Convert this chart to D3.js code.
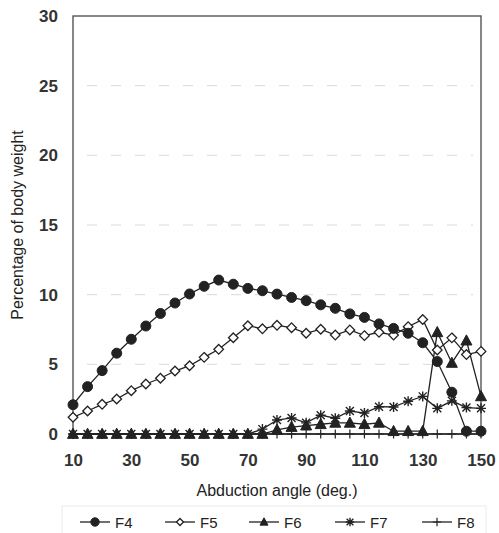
<!DOCTYPE html>
<html>
<head>
<meta charset="utf-8">
<script src="https://cdn.jsdelivr.net/npm/d3@7"></script>
<style>
  html, body { margin: 0; padding: 0; background: #fff; }
  svg { display: block; font-family: "Liberation Sans", Arial, sans-serif; }
</style>
</head>
<body>
<div id="chart"></div>
<script>
// Abduction angles (deg.)
const angles = [10, 15, 20, 25, 30, 35, 40, 45, 50, 55, 60, 65, 70, 75, 80,
                85, 90, 95, 100, 105, 110, 115, 120, 125, 130, 135, 140, 145, 150];

// Percentage of body weight
const f4 = [2.1, 3.4, 4.55, 5.8, 6.8, 7.75, 8.65, 9.4, 10.05, 10.6, 11.05, 10.75, 10.45, 10.28, 10.04,
            9.8, 9.57, 9.27, 9.02, 8.62, 8.37, 7.9, 7.58, 7.23, 6.55, 5.2, 3.0, 0.2, 0.2];
const f5 = [1.2, 1.65, 2.13, 2.51, 3.11, 3.59, 4.0, 4.52, 4.9, 5.5, 6.08, 6.91, 7.77, 7.55, 7.8,
            7.63, 7.23, 7.52, 7.1, 7.47, 7.06, 7.3, 7.1, 7.7, 8.22, 6.03, 6.9, 5.7, 5.93];
const f6 = [0, 0, 0, 0, 0, 0, 0, 0, 0, 0, 0, 0, 0, 0, 0.3,
            0.5, 0.6, 0.7, 0.8, 0.8, 0.7, 0.8, 0.2, 0.2, 0.2, 7.3, 5.1, 6.7, 2.7];
const f7 = [0, 0, 0, 0, 0, 0, 0, 0, 0, 0, 0, 0, 0, 0.35, 1.0,
            1.15, 0.8, 1.35, 1.13, 1.65, 1.5, 1.96, 1.94, 2.35, 2.7, 1.84, 2.38, 1.9, 1.84];
const f8 = [0, 0, 0, 0, 0, 0, 0, 0, 0, 0, 0, 0, 0, 0, 0,
            0, 0, 0, 0, 0, 0, 0, 0, 0, 0, 0, 0, 0, 0];

const xTicks = [10, 30, 50, 70, 90, 110, 130, 150];
const yTicks = [0, 5, 10, 15, 20, 25, 30];
const gridValues = [5, 10, 15, 20, 25];

const series = [
    { name: 'F8', values: f8, marker: 'plus' },
    { name: 'F7', values: f7, marker: 'star' },
    { name: 'F6', values: f6, marker: 'triangle' },
    { name: 'F5', values: f5, marker: 'diamond' },
    { name: 'F4', values: f4, marker: 'circle' }
];
const legendOrder = ['F4', 'F5', 'F6', 'F7', 'F8'];

const W = 499, H = 533;
const ink = '#222';

const svg = d3.select('#chart').append('svg')
    .attr('width', W)
    .attr('height', H);

const x = d3.scaleLinear().domain([10, 150]).range([73, 481]);
const y = d3.scaleLinear().domain([0, 30]).range([434, 16]);

// light dashed gridlines
svg.append('g')
    .selectAll('line')
    .data(gridValues)
    .join('line')
    .attr('x1', x(10) + 14)
    .attr('x2', x(150) - 8)
    .attr('y1', d => y(d))
    .attr('y2', d => y(d))
    .attr('stroke', '#dadada')
    .attr('stroke-width', 1)
    .attr('stroke-dasharray', '10 14');

// frame
svg.append('rect')
    .attr('x', x(10))
    .attr('y', y(30))
    .attr('width', x(150) - x(10))
    .attr('height', y(0) - y(30))
    .attr('fill', 'none')
    .attr('stroke', '#555')
    .attr('stroke-width', 1.4);

// y axis labels
const yAxis = d3.axisLeft(y).tickValues(yTicks).tickSize(0).tickPadding(15);
svg.append('g')
    .attr('transform', `translate(${x(10)},0)`)
    .call(yAxis)
    .call(g => g.select('.domain').remove())
    .call(g => g.selectAll('text')
        .attr('font-size', 17)
        .attr('font-weight', 'bold')
        .attr('fill', '#333')
        .attr('font-family', '"Liberation Sans", Arial, sans-serif'));

// x axis labels
const xAxis = d3.axisBottom(x).tickValues(xTicks).tickSize(0).tickPadding(20);
svg.append('g')
    .attr('transform', `translate(0,${y(0)})`)
    .call(xAxis)
    .call(g => g.select('.domain').remove())
    .call(g => g.selectAll('text')
        .attr('font-size', 17)
        .attr('font-weight', 'bold')
        .attr('fill', '#333')
        .attr('font-family', '"Liberation Sans", Arial, sans-serif'));

// axis titles
svg.append('text')
    .attr('x', (x(10) + x(150)) / 2)
    .attr('y', 496)
    .attr('text-anchor', 'middle')
    .attr('font-size', 16)
    .attr('fill', '#222')
    .text('Abduction angle (deg.)');

svg.append('text')
    .attr('transform', `translate(23,${(y(0) + y(30)) / 2}) rotate(-90)`)
    .attr('text-anchor', 'middle')
    .attr('font-size', 16)
    .attr('fill', '#222')
    .text('Percentage of body weight');

// marker drawing
function drawMarker(sel, type, s) {
    if (type === 'circle') {
        sel.append('circle').attr('r', s).attr('fill', ink).attr('stroke', ink);
    } else if (type === 'diamond') {
        sel.append('path')
            .attr('d', `M0,${-s}L${s},0L0,${s}L${-s},0Z`)
            .attr('fill', '#fff').attr('stroke', ink).attr('stroke-width', 1.3);
    } else if (type === 'triangle') {
        sel.append('path')
            .attr('d', `M0,${-s}L${s * 0.95},${s * 0.75}L${-s * 0.95},${s * 0.75}Z`)
            .attr('fill', ink).attr('stroke', ink);
    } else if (type === 'star') {
        const a = s * 0.8;
        sel.append('path')
            .attr('d', `M${-a},${-a}L${a},${a}M${-a},${a}L${a},${-a}M0,${-s}L0,${s}M${-s},0L${s},0`)
            .attr('fill', 'none').attr('stroke', ink).attr('stroke-width', 1.4);
    } else if (type === 'plus') {
        sel.append('path')
            .attr('d', `M0,${-s}L0,${s}M${-s},0L${s},0`)
            .attr('fill', 'none').attr('stroke', ink).attr('stroke-width', 1.2);
    }
}

const markerSize = { circle: 5, diamond: 4.8, triangle: 5.8, star: 5, plus: 4.5 };

const line = d3.line()
    .x(d => x(d.a))
    .y(d => y(d.v));

series.forEach(s => {
    const pts = angles.map((a, i) => ({ a: a, v: s.values[i] }));
    const g = svg.append('g').attr('class', 'series-' + s.name);
    g.append('path')
        .datum(pts)
        .attr('d', line)
        .attr('fill', 'none')
        .attr('stroke', ink)
        .attr('stroke-width', 1.3);
    g.selectAll('g.pt')
        .data(pts)
        .join('g')
        .attr('class', 'pt')
        .attr('transform', d => `translate(${x(d.a)},${y(d.v)})`)
        .each(function() { drawMarker(d3.select(this), s.marker, markerSize[s.marker]); });
});

// legend
svg.append('rect')
    .attr('x', 62).attr('y', 506)
    .attr('width', 424).attr('height', 34)
    .attr('fill', 'none')
    .attr('stroke', '#ececec');

const legendX = [80, 165, 249, 335, 422];
legendOrder.forEach((name, i) => {
    const s = series.find(d => d.name === name);
    const g = svg.append('g').attr('transform', `translate(${legendX[i]},522)`);
    g.append('line')
        .attr('x1', 0).attr('x2', 30)
        .attr('stroke', ink).attr('stroke-width', 1.3);
    const m = g.append('g').attr('transform', 'translate(15,0)');
    drawMarker(m, s.marker, s.marker === 'diamond' ? 3.5 : 4.2);
    g.append('text')
        .attr('x', 35).attr('y', 5.5)
        .attr('font-size', 15)
        .attr('fill', '#222')
        .text(name);
});
</script>
</body>
</html>
